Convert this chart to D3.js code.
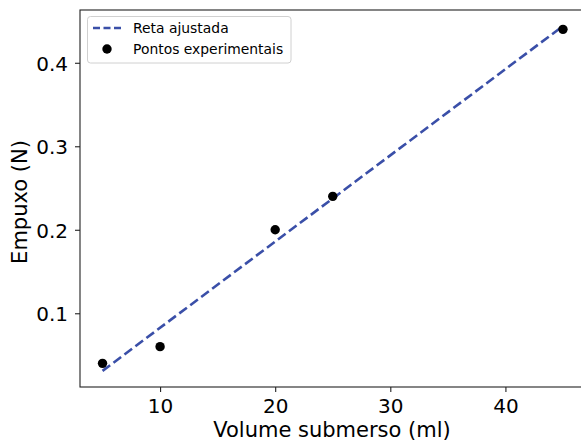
<!DOCTYPE html>
<html>
<head>
<meta charset="utf-8">
<script src="https://cdn.jsdelivr.net/npm/d3@7"></script>
<style>
  body { margin: 0; background: #fff; }
  svg { display: block; font-family: 'DejaVu Sans', sans-serif; }
</style>
</head>
<body>
<div class="chart"></div>
<script>
const width = 581;
const height = 446;

// experimental points
const volume = [5, 10, 20, 25, 45];
const empuxo = [0.04, 0.06, 0.2, 0.24, 0.44];

// fitted line endpoints
const fitX = [5, 45];
const fitY = [0.031, 0.444];

const xTicks = [10, 20, 30, 40];
const yTicks = [0.1, 0.2, 0.3, 0.4];

const margin = {left: 80, top: 10, bottom: 387};

const color = {
  'line': '#3a4fa8',
  'dot': '#000',
  'axis': '#222',
};

const x = d3.scaleLinear()
  .domain([3, 47])
  .range([79.5, 586]);

const y = d3.scaleLinear()
  .domain([0.0117, 0.4632])
  .range([margin.bottom, margin.top]);

const svg = d3.select('.chart')
  .append('svg')
    .attr('width', width)
    .attr('height', height);

// fitted line
svg.append('path')
  .datum(fitX.map((v, i) => [v, fitY[i]]))
  .attr('fill', 'none')
  .attr('stroke', color.line)
  .attr('stroke-width', 2.6)
  .attr('stroke-dasharray', '9.5,4.2')
  .attr('d', d3.line().x(d => x(d[0])).y(d => y(d[1])));

// points
svg.selectAll('.dot')
  .data(volume)
  .enter().append('circle')
    .attr('class', 'dot')
    .attr('cx', d => x(d))
    .attr('cy', (d, i) => y(empuxo[i]))
    .attr('r', 4.7)
    .attr('fill', color.dot);

// axes
const xAxis = svg.append('g')
  .attr('transform', `translate(0, ${margin.bottom})`)
  .call(d3.axisBottom(x).tickValues(xTicks).tickSize(5).tickPadding(7).tickFormat(d3.format('d')));

const yAxis = svg.append('g')
  .attr('transform', `translate(${margin.left}, 0)`)
  .call(d3.axisLeft(y).tickValues(yTicks).tickSize(5).tickPadding(7).tickFormat(d3.format('.1f')));

yAxis.selectAll('text').attr('dy', '0.38em');

[xAxis, yAxis].forEach(a => {
  a.select('.domain').remove();
  a.selectAll('line').attr('stroke', color.axis).attr('stroke-width', 1.1);
  a.selectAll('text')
    .attr('fill', '#000')
    .style('font-size', '20px')
    .style('font-family', "'DejaVu Sans', sans-serif");
});

// spines
svg.append('rect')
  .attr('x', margin.left)
  .attr('y', margin.top)
  .attr('width', 520)
  .attr('height', margin.bottom - margin.top)
  .attr('fill', 'none')
  .attr('stroke', color.axis)
  .attr('stroke-width', 1.1);

// axis labels
svg.append('text')
  .attr('x', 332)
  .attr('y', 437)
  .attr('text-anchor', 'middle')
  .style('font-size', '21px')
  .text('Volume submerso (ml)');

svg.append('text')
  .attr('transform', 'translate(27, 202) rotate(-90)')
  .attr('text-anchor', 'middle')
  .style('font-size', '21px')
  .text('Empuxo (N)');

// legend
const legend = svg.append('g');

legend.append('rect')
  .attr('x', 87.5)
  .attr('y', 16.5)
  .attr('width', 203.5)
  .attr('height', 46.5)
  .attr('rx', 3)
  .attr('fill', 'rgba(255,255,255,0.8)')
  .attr('stroke', '#d0d0d0');

legend.append('line')
  .attr('x1', 93)
  .attr('x2', 121)
  .attr('y1', 28)
  .attr('y2', 28)
  .attr('stroke', color.line)
  .attr('stroke-width', 2.6)
  .attr('stroke-dasharray', '7,3.5');

legend.append('circle')
  .attr('cx', 107)
  .attr('cy', 49)
  .attr('r', 4.7)
  .attr('fill', color.dot);

legend.selectAll('.legend-text')
  .data(['Reta ajustada', 'Pontos experimentais'])
  .enter().append('text')
    .attr('class', 'legend-text')
    .attr('x', 133)
    .attr('y', (d, i) => 33 + i * 20.5)
    .style('font-size', '13.9px')
    .text(d => d);
</script>
</body>
</html>
